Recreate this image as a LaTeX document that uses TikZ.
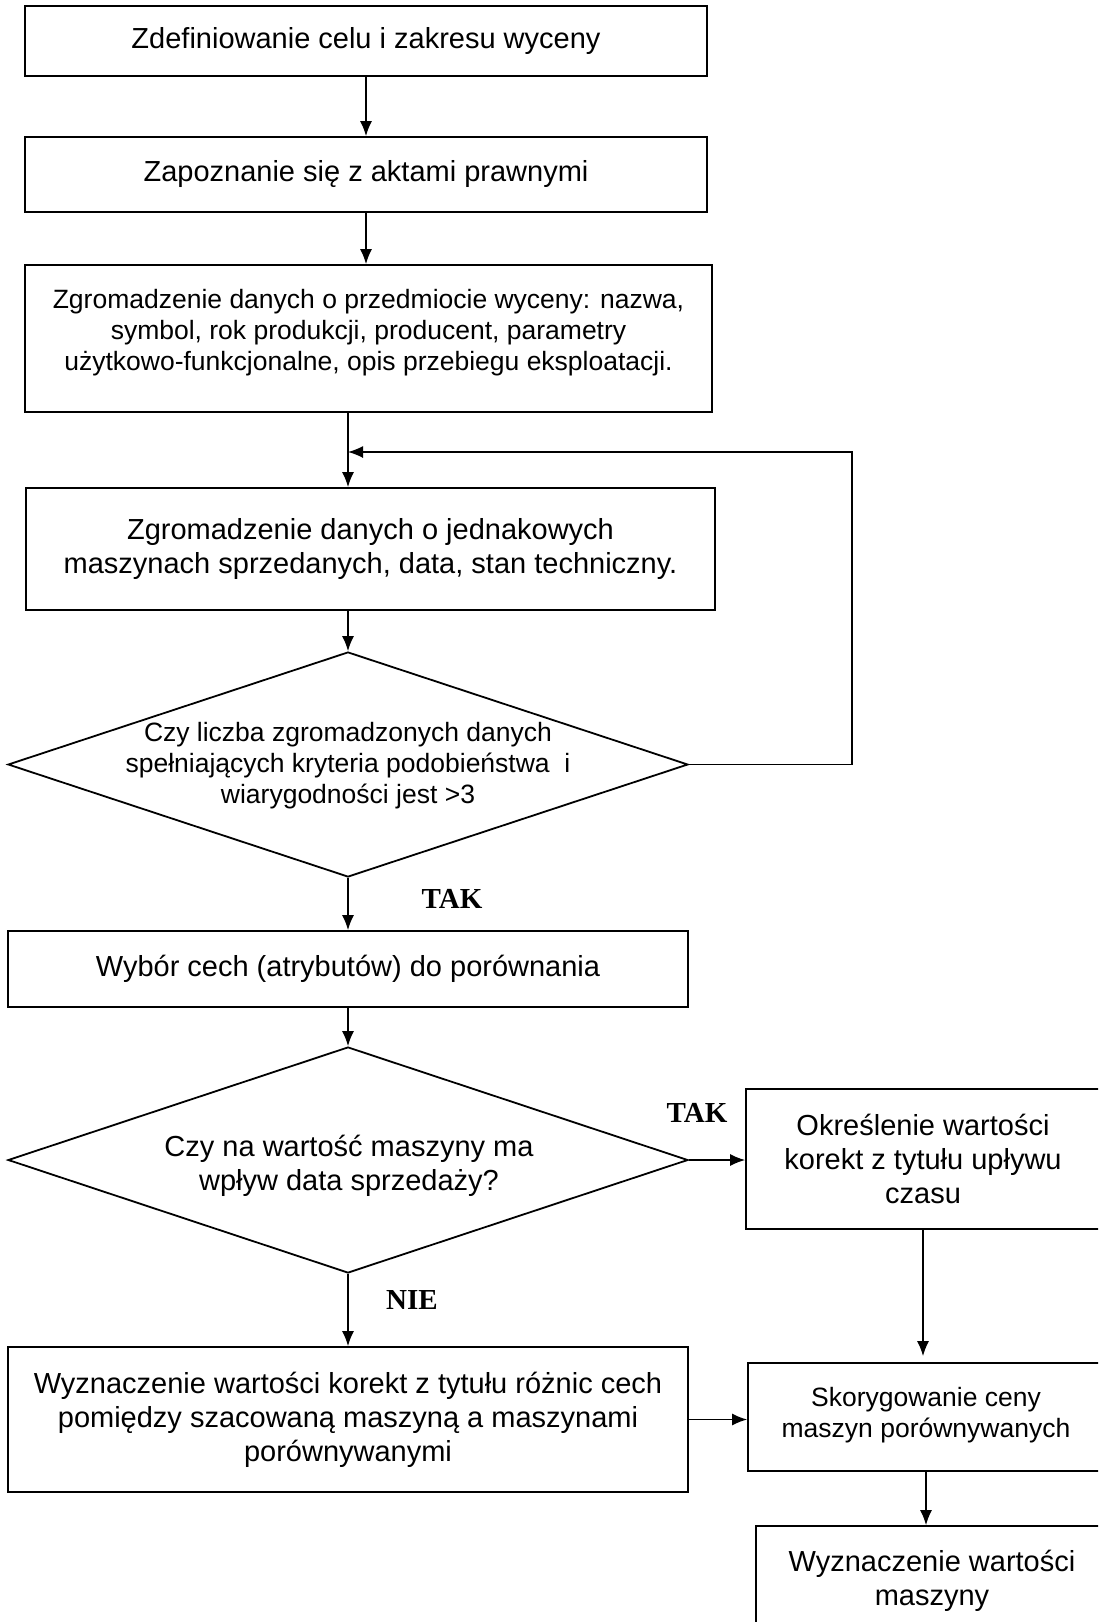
\documentclass[tikz,border=0pt]{standalone}
\usepackage{fontspec}
\setmainfont{Liberation Sans}
\newfontfamily\tnr{Liberation Serif}
\usetikzlibrary{shapes.geometric,arrows.meta,calc}
\begin{document}
\begin{tikzpicture}[x=1pt,y=-1pt,
  box/.style={draw, line width=1.8pt, inner sep=0pt, align=center},
  txt/.style={align=center, inner sep=0pt},
  big/.style={font=\fontsize{29}{34}\selectfont},
  small/.style={font=\fontsize{26.5}{31}\selectfont},
  lab/.style={font=\fontsize{29}{34}\selectfont\tnr\bfseries, inner sep=0pt},
  arr/.style={line width=1.4pt, -{Latex[length=15pt,width=12pt]}},
  dia/.style={draw, diamond, line width=1.8pt, inner sep=0pt, minimum width=680pt}
]
\useasboundingbox (0,0) rectangle (1098,1622);
\clip (0,0) rectangle (1098,1622);

\node[box,big,minimum width=682pt,minimum height=70pt] (b1) at (366,41) {Zdefiniowanie celu i zakresu wyceny};
\node[box,big,minimum width=682pt,minimum height=75pt] (b2) at (366,174.5) {Zapoznanie się z aktami prawnymi};
\node[box,minimum width=687pt,minimum height=147pt] (b3) at (368.5,338.5) {};
\node[txt,small] (b3t) at (368.5,333) {Zgromadzenie danych o przedmiocie wyceny: nazwa,\\symbol, rok produkcji, producent, parametry\\użytkowo-funkcjonalne, opis przebiegu eksploatacji.};
\node[box,big,minimum width=689pt,minimum height=122pt] (b4) at (370.5,549) {Zgromadzenie danych o jednakowych\\maszynach sprzedanych, data, stan techniczny.};
\node[dia,minimum height=225pt] (d1) at (348,764.5) {};
\node[txt,small] (d1t) at (348,766) {Czy liczba zgromadzonych danych\\spełniających kryteria podobieństwa\ \ i\\wiarygodności jest >3};
\node[box,big,minimum width=680pt,minimum height=76pt] (b5) at (348,969) {Wybór cech (atrybutów) do porównania};
\node[dia,minimum height=226pt] (d2) at (348,1160) {};
\node[txt,big] (d2t) at (349,1166) {Czy na wartość maszyny ma\\wpływ data sprzedaży?};

% right-hand boxes run past the right edge of the picture
\node[box,minimum width=384pt,minimum height=140pt] (b6) at (938,1159) {};
\node[txt,big] (b6t) at (923,1159) {Określenie wartości\\korekt z tytułu upływu\\czasu};
\node[box,big,minimum width=680pt,minimum height=145pt] (b7) at (348,1419.5) {Wyznaczenie wartości korekt z tytułu różnic cech\\pomiędzy szacowaną maszyną a maszynami\\porównywanymi};
\node[box,minimum width=382pt,minimum height=108pt] (b8) at (939,1417) {};
\node[txt,small] (b8t) at (926,1415) {Skorygowanie ceny\\maszyn porównywanych};
\node[box,minimum width=374pt,minimum height=130pt] (b9) at (943,1591) {};
\node[txt,big] (b9t) at (932,1581) {Wyznaczenie wartości\\maszyny};

\node[lab] (l1) at (452,899) {TAK};
\node[lab] (l2) at (697,1113) {TAK};
\node[lab] (l3) at (412,1300) {NIE};

\coordinate (fb) at (852,452);

\draw[arr] (b1.south) -- (b1.south |- b2.north);
\draw[arr] (b2.south) -- (b2.south |- b3.north);
\draw[arr] (b3.south -| d1.north) -- (b4.north -| d1.north);
\draw[arr] (b4.south -| d1.north) -- (d1.north);
\draw[arr] (d1.east) -| (fb) -- (fb -| d1.north);
\draw[arr] (d1.south) -- (b5.north);
\draw[arr] (b5.south) -- (d2.north);
\draw[arr] (d2.east) -- (d2.east -| b6.west);
\draw[arr] (d2.south) -- (b7.north);
\draw[arr] (b7.east) -- (b7.east -| b8.west);
\draw[arr, shorten >=6pt] (b6t.south |- b6.south) -- (b6t.south |- b8.north);
\draw[arr] (b8t.south |- b8.south) -- (b8t.south |- b9.north);
\end{tikzpicture}
\end{document}
